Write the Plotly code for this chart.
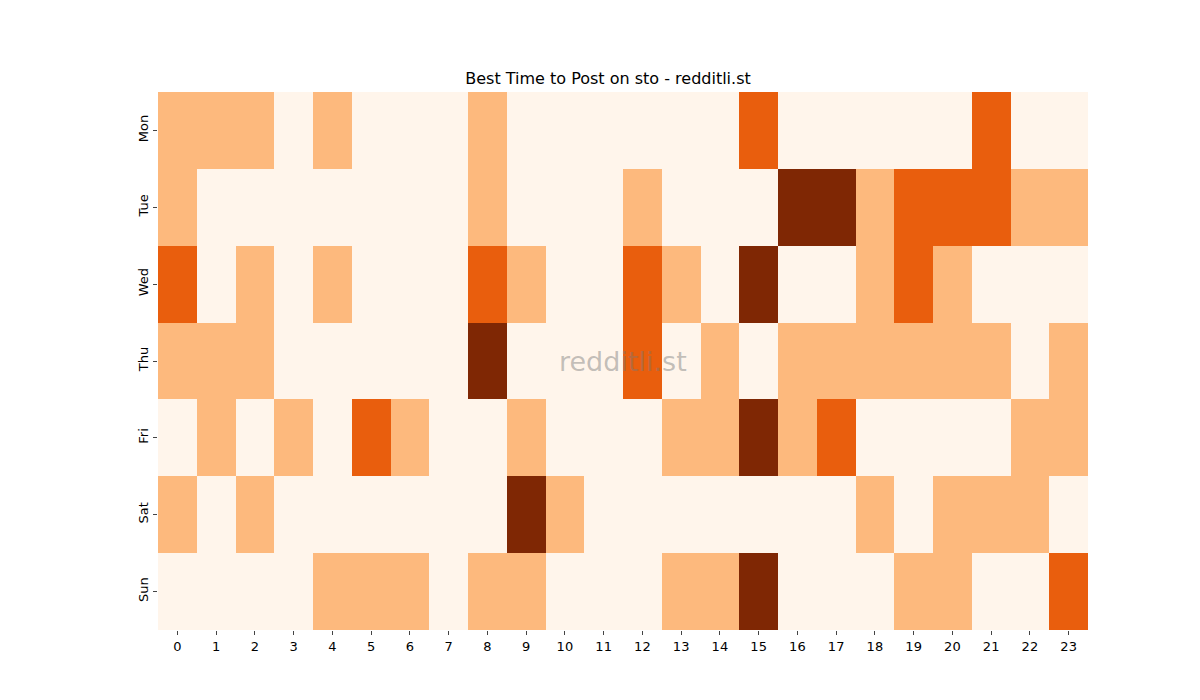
import plotly.graph_objects as go

hours = list(range(24))
days = ['Mon', 'Tue', 'Wed', 'Thu', 'Fri', 'Sat', 'Sun']

mon = [1, 1, 1, 0, 1, 0, 0, 0, 1, 0, 0, 0, 0, 0, 0, 2, 0, 0, 0, 0, 0, 2, 0, 0]
tue = [1, 0, 0, 0, 0, 0, 0, 0, 1, 0, 0, 0, 1, 0, 0, 0, 3, 3, 1, 2, 2, 2, 1, 1]
wed = [2, 0, 1, 0, 1, 0, 0, 0, 2, 1, 0, 0, 2, 1, 0, 3, 0, 0, 1, 2, 1, 0, 0, 0]
thu = [1, 1, 1, 0, 0, 0, 0, 0, 3, 0, 0, 0, 2, 0, 1, 0, 1, 1, 1, 1, 1, 1, 0, 1]
fri = [0, 1, 0, 1, 0, 2, 1, 0, 0, 1, 0, 0, 0, 1, 1, 3, 1, 2, 0, 0, 0, 0, 1, 1]
sat = [1, 0, 1, 0, 0, 0, 0, 0, 0, 3, 1, 0, 0, 0, 0, 0, 0, 0, 1, 0, 1, 1, 1, 0]
sun = [0, 0, 0, 0, 1, 1, 1, 0, 1, 1, 0, 0, 0, 1, 1, 3, 0, 0, 0, 1, 1, 0, 0, 2]

z = [mon, tue, wed, thu, fri, sat, sun]

# palette discreta tipo Oranges
colorscale = [
    [0.0, '#fff5eb'], [0.25, '#fff5eb'],
    [0.25, '#fdb97d'], [0.5, '#fdb97d'],
    [0.5, '#e95e0d'], [0.75, '#e95e0d'],
    [0.75, '#7f2704'], [1.0, '#7f2704'],
]

fig = go.Figure(go.Heatmap(
    z=z, x=hours, y=days,
    zmin=-0.5, zmax=3.5,
    colorscale=colorscale,
    showscale=False,
))

fig.add_annotation(
    x=0.5, y=0.5, xref='paper', yref='paper',
    text='redditli.st', showarrow=False,
    font=dict(size=27, color='rgba(120,120,120,0.45)'),
)

fig.update_layout(
    width=1200, height=700,
    margin=dict(l=150, r=120, t=84, b=78),
    plot_bgcolor='white', paper_bgcolor='white',
    font=dict(family='DejaVu Sans', size=13, color='black'),
    title=dict(text='Best Time to Post on sto - redditli.st',
               x=0.5, xanchor='center', y=1 - 70 / 700, yanchor='middle',
               font=dict(size=16)),
)
fig.update_xaxes(tickmode='array', tickvals=hours, ticks='outside',
                 ticklen=4, showgrid=False, zeroline=False)
fig.update_yaxes(autorange='reversed', ticks='outside', ticklen=4,
                 tickangle=-90, showgrid=False, zeroline=False)

fig.write_html('out.html')
